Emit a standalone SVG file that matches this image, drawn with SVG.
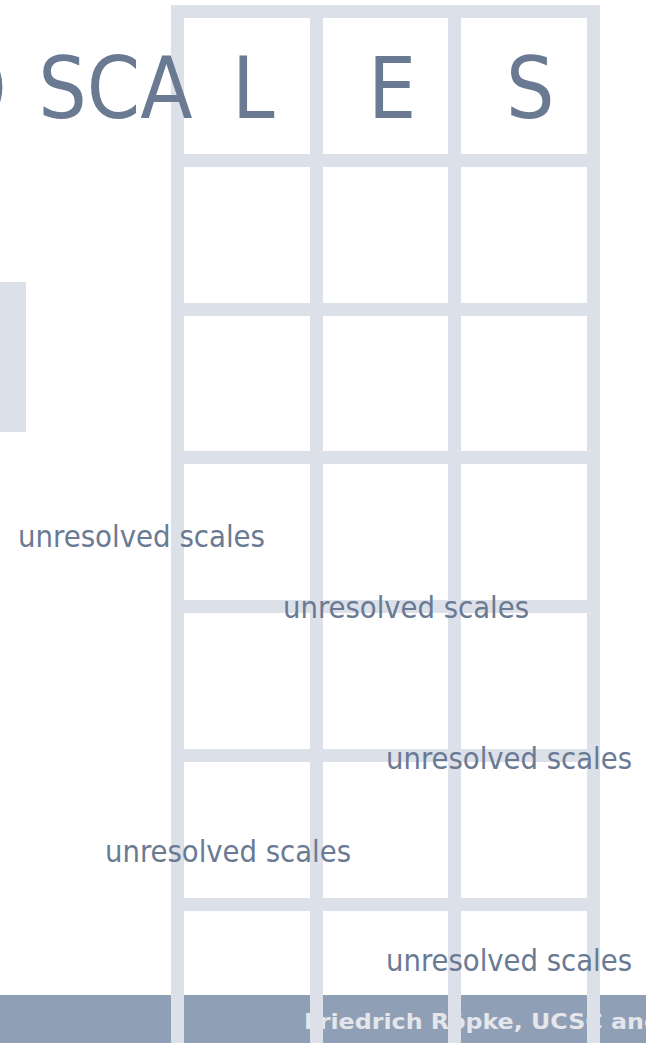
<svg xmlns="http://www.w3.org/2000/svg" width="646" height="1043" viewBox="0 0 646 1043">
  <style>
    .bar { fill: #dce0e9; }
    .big { font-family: "DejaVu Sans Condensed", "DejaVu Sans", sans-serif; font-stretch: condensed; font-size: 85px; fill: #6a7a93; }
    .lbl { font-family: "DejaVu Sans Condensed", "DejaVu Sans", sans-serif; font-stretch: condensed; font-size: 31px; fill: #6a7a93; }
    .foot { font-family: "DejaVu Sans", sans-serif; font-weight: bold; font-size: 22px; fill: #e4e6eb; }
  </style>
  <rect width="646" height="1043" fill="#ffffff"/>
  <g id="side-panel">
    <rect x="0" y="282" width="26" height="150" class="bar"/>
  </g>
  <g id="footer">
    <rect x="0" y="995" width="646" height="48" fill="#8f9fb6"/>
    <text class="foot" x="304" y="1029" textLength="357" lengthAdjust="spacingAndGlyphs">Friedrich Röpke, UCSC and</text>
  </g>
  <g id="grid">
    <rect class="bar" x="171" y="5" width="13" height="1038"/>
    <rect class="bar" x="310" y="5" width="13" height="1038"/>
    <rect class="bar" x="448" y="5" width="13" height="1038"/>
    <rect class="bar" x="587" y="5" width="13" height="1038"/>
    <rect class="bar" x="171" y="5" width="429" height="13"/>
    <rect class="bar" x="171" y="154" width="429" height="13"/>
    <rect class="bar" x="171" y="303" width="429" height="13"/>
    <rect class="bar" x="171" y="451" width="429" height="13"/>
    <rect class="bar" x="171" y="600" width="429" height="13"/>
    <rect class="bar" x="171" y="749" width="429" height="13"/>
    <rect class="bar" x="171" y="898" width="429" height="13"/>
  </g>
  <g id="title">
    <text class="big" x="-52" y="118">D<tspan dx="7"> SCA</tspan></text>
    <text class="big" x="232" y="118">L</text>
    <text class="big" x="368" y="118">E</text>
    <text class="big" x="506" y="118">S</text>
  </g>
  <g id="labels">
    <text class="lbl" x="18" y="547" textLength="247" lengthAdjust="spacingAndGlyphs">unresolved scales</text>
    <text class="lbl" x="283" y="618" textLength="246" lengthAdjust="spacingAndGlyphs">unresolved scales</text>
    <text class="lbl" x="386" y="769" textLength="246" lengthAdjust="spacingAndGlyphs">unresolved scales</text>
    <text class="lbl" x="105" y="862" textLength="246" lengthAdjust="spacingAndGlyphs">unresolved scales</text>
    <text class="lbl" x="386" y="971" textLength="246" lengthAdjust="spacingAndGlyphs">unresolved scales</text>
  </g>
</svg>
